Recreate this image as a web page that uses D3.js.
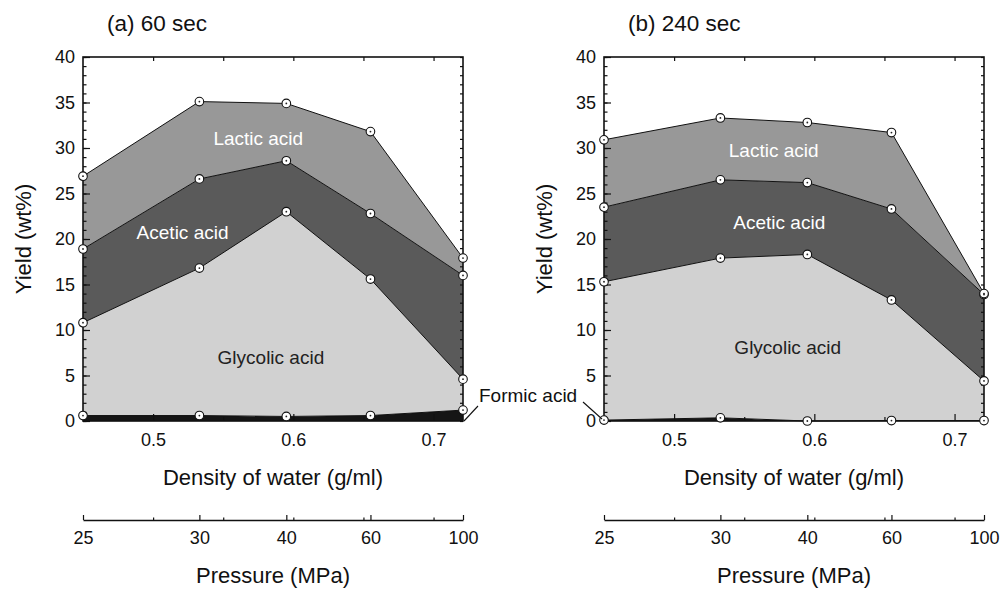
<!DOCTYPE html>
<html>
<head>
<meta charset="utf-8">
<script src="https://cdn.jsdelivr.net/npm/d3@7"></script>
<style>
  body { margin: 0; background: #fff; }
  svg text { font-family: "Liberation Sans", Arial, Helvetica, sans-serif; fill: #111; }
</style>
</head>
<body>
<div id="chart"></div>
<script>
// x positions: density of water (g/ml) at each pressure (MPa)
var density = [0.450, 0.533, 0.595, 0.655, 0.721];
var pressure = [25, 30, 40, 60, 100];

// yields of each acid (wt%), stacked bottom -> top
var keys = ["formic", "glycolic", "acetic", "lactic"];

var formic60   = [0.6, 0.6, 0.5, 0.6, 1.2];
var glycolic60 = [10.2, 16.2, 22.5, 15.0, 3.4];
var acetic60   = [8.1, 9.8, 5.6, 7.2, 11.4];
var lactic60   = [8.0, 8.5, 6.3, 9.0, 1.9];

var formic240   = [0.1, 0.35, 0.0, 0.05, 0.05];
var glycolic240 = [15.2, 17.55, 18.3, 13.25, 4.35];
var acetic240   = [8.2, 8.6, 7.9, 10.0, 9.5];
var lactic240   = [7.4, 6.8, 6.6, 8.4, 0.1];

var fills = {formic: "#151515", glycolic: "#d1d1d1", acetic: "#5a5a5a", lactic: "#989898"};

// set the dimensions of each plot box
var W = 1003, H = 589;
var plotTop = 57, plotBottom = 421, plotW = 380;

var svg = d3.select("#chart").append("svg")
  .attr("width", W)
  .attr("height", H);

function buildRows(f, g, a, l) {
  return density.map(function(d, i) {
    return {density: d, formic: f[i], glycolic: g[i], acetic: a[i], lactic: l[i]};
  });
}

function drawPanel(left, title, rows, labels) {
  var x = d3.scaleLinear().domain([0.45, 0.721]).range([0, plotW]);
  var y = d3.scaleLinear().domain([0, 40]).range([plotBottom - plotTop, 0]);
  var h = plotBottom - plotTop;

  var g = svg.append("g")
    .attr("transform", "translate(" + left + "," + plotTop + ")");

  var series = d3.stack().keys(keys)(rows);

  var area = d3.area()
    .x(function(d) { return x(d.data.density); })
    .y0(function(d) { return y(d[0]); })
    .y1(function(d) { return y(d[1]); });

  var line = d3.line()
    .x(function(d) { return x(d.data.density); })
    .y(function(d) { return y(d[1]); });

  g.selectAll(".band")
    .data(series)
    .enter().append("path")
    .attr("d", area)
    .attr("fill", function(s) { return fills[s.key]; });

  g.selectAll(".edge")
    .data(series)
    .enter().append("path")
    .attr("d", line)
    .attr("fill", "none")
    .attr("stroke", "#111")
    .attr("stroke-width", 1);

  // band labels
  g.selectAll(".lbl")
    .data(labels)
    .enter().append("text")
    .attr("x", function(d) { return x(d.x); })
    .attr("y", function(d) { return y(d.y); })
    .attr("dy", "0.36em")
    .attr("text-anchor", "middle")
    .style("font-size", "19px")
    .style("fill", function(d) { return d.color; })
    .text(function(d) { return d.text; });

  // axes, ticks pointing inward
  var yMajor = d3.axisLeft(y).tickValues(d3.range(0, 41, 5)).tickSizeInner(-7).tickSizeOuter(0).tickPadding(8);
  var yMinor = d3.axisLeft(y).tickValues(d3.range(0, 41, 1)).tickSizeInner(-3.5).tickSizeOuter(0).tickFormat("");
  var yRight = d3.axisRight(y).tickValues(d3.range(0, 41, 1)).tickSizeInner(-3).tickSizeOuter(0).tickFormat("");
  var xTop = d3.axisTop(x).tickValues([0.5, 0.55, 0.6, 0.65, 0.7]).tickSizeInner(-4).tickSizeOuter(0).tickFormat("");
  var xMajor = d3.axisBottom(x).tickValues([0.5, 0.6, 0.7]).tickSizeInner(-7).tickSizeOuter(0).tickPadding(12).tickFormat(d3.format(".1f"));
  var xMinor = d3.axisBottom(x).tickValues([0.55, 0.65]).tickSizeInner(-4).tickSizeOuter(0).tickFormat("");

  g.append("g").call(yMinor);
  g.append("g").call(yMajor);
  g.append("g").attr("transform", "translate(" + plotW + ",0)").call(yRight);
  g.append("g").call(xTop);
  g.append("g").attr("transform", "translate(0," + h + ")").call(xMinor);
  g.append("g").attr("transform", "translate(0," + h + ")").call(xMajor);

  g.selectAll(".domain").remove();
  g.selectAll(".tick line").attr("stroke", "#111").attr("stroke-width", 1.2);
  g.selectAll(".tick text").style("font-size", "18px").style("fill", "#111");

  // plot frame
  g.append("rect")
    .attr("width", plotW)
    .attr("height", h)
    .attr("fill", "none")
    .attr("stroke", "#111")
    .attr("stroke-width", 1.6);

  // markers
  var pts = [];
  series.forEach(function(s) {
    s.forEach(function(d) { pts.push({x: d.data.density, v: d[1]}); });
  });
  g.selectAll(".pt")
    .data(pts)
    .enter().append("circle")
    .attr("cx", function(d) { return x(d.x); })
    .attr("cy", function(d) { return y(d.v); })
    .attr("r", 4.3)
    .attr("fill", "#fff")
    .attr("stroke", "#111")
    .attr("stroke-width", 1.1);
  g.selectAll(".dot")
    .data(pts)
    .enter().append("circle")
    .attr("cx", function(d) { return x(d.x); })
    .attr("cy", function(d) { return y(d.v); })
    .attr("r", 0.9)
    .attr("fill", "#222");

  // axis titles
  g.append("text")
    .attr("x", plotW / 2)
    .attr("y", h + 64)
    .attr("text-anchor", "middle")
    .style("font-size", "22px")
    .text("Density of water (g/ml)");

  g.append("text")
    .attr("transform", "translate(-52," + (h / 2) + ") rotate(-90)")
    .attr("text-anchor", "middle")
    .style("font-size", "22px")
    .text("Yield (wt%)");

  g.append("text")
    .attr("x", 24)
    .attr("y", -26)
    .style("font-size", "22.5px")
    .text(title);

  // secondary pressure axis below
  var pAxis = g.append("g").attr("transform", "translate(0," + (h + 99) + ")");
  pAxis.append("g").call(d3.axisBottom(x).tickValues([0.5, 0.55, 0.6, 0.65, 0.7]).tickSizeInner(-2.5).tickSizeOuter(0).tickFormat(""))
    .select(".domain").remove();
  pAxis.append("g").call(d3.axisBottom(x).tickValues(density).tickSizeInner(-5).tickSizeOuter(0).tickPadding(11)
    .tickFormat(function(d, i) { return pressure[i]; }))
    .select(".domain").attr("stroke", "#111").attr("stroke-width", 1.3);
  pAxis.selectAll(".tick line").attr("stroke", "#111").attr("stroke-width", 1.2);
  pAxis.selectAll(".tick text").style("font-size", "18px").style("fill", "#111");

  g.append("text")
    .attr("x", plotW / 2)
    .attr("y", h + 162)
    .attr("text-anchor", "middle")
    .style("font-size", "22px")
    .text("Pressure (MPa)");

  return {x: x, y: y, left: left};
}

var pa = drawPanel(83, "(a) 60 sec", buildRows(formic60, glycolic60, acetic60, lactic60), [
  {text: "Lactic acid", x: 0.575, y: 31.1, color: "#fff"},
  {text: "Acetic acid", x: 0.521, y: 20.7, color: "#fff"},
  {text: "Glycolic acid", x: 0.584, y: 7.0, color: "#222"}
]);
var pb = drawPanel(604, "(b) 240 sec", buildRows(formic240, glycolic240, acetic240, lactic240), [
  {text: "Lactic acid", x: 0.571, y: 29.8, color: "#fff"},
  {text: "Acetic acid", x: 0.575, y: 21.8, color: "#fff"},
  {text: "Glycolic acid", x: 0.581, y: 8.1, color: "#222"}
]);

// shared "Formic acid" callout between the panels
var ax = pa.left + pa.x(0.721), ay = plotTop + pa.y(0);
var bx = pb.left + pb.x(0.45), by = plotTop + pb.y(0);
svg.append("text")
  .attr("x", ax + 16)
  .attr("y", ay - 19)
  .style("font-size", "19px")
  .text("Formic acid");
svg.append("line")
  .attr("x1", ax + 1).attr("y1", ay)
  .attr("x2", ax + 15).attr("y2", ay - 15)
  .attr("stroke", "#111").attr("stroke-width", 1.1);
svg.append("line")
  .attr("x1", bx - 21).attr("y1", ay - 19)
  .attr("x2", bx - 2).attr("y2", by - 2)
  .attr("stroke", "#111").attr("stroke-width", 1.1);
</script>
</body>
</html>
